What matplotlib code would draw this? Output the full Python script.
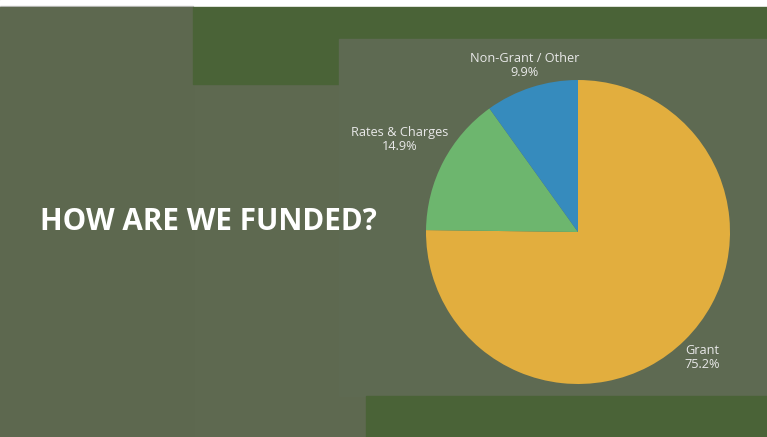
import numpy as np
import matplotlib.pyplot as plt
from matplotlib.patches import Rectangle

labels = ["Grant", "Rates & Charges", "Non-Grant / Other"]
shares = [75.2, 14.9, 9.9]
colors = ["#e2ae3e", "#6db66e", "#368bbd"]
label_dist = [1.165, 1.32, 1.15]

W, H = 767, 437
fig = plt.figure(figsize=(W / 100, H / 100), dpi=100)
fig.patch.set_facecolor("#5e6950")

# background blocks (pixel coords, y from top)
bg = fig.add_axes([0, 0, 1, 1])
bg.set_xlim(0, W)
bg.set_ylim(H, 0)
bg.axis("off")
bg.add_patch(Rectangle((0, 0), W, 7, color="white"))
bg.add_patch(Rectangle((0, 6), 193, 1.2, color="#c8c8c8"))
bg.add_patch(Rectangle((0, 7), 193, H - 7, color="#5d684f"))
bg.add_patch(Rectangle((193, 7), W - 193, 77, color="#4a6337"))
bg.add_patch(Rectangle((339, 39), W - 339, 357, color="#5e6a52"))
bg.add_patch(Rectangle((366, 396), W - 366, H - 396, color="#4a6337"))

bg.text(40, 222, "HOW ARE WE FUNDED?", color="white", fontsize=21.3,
        fontweight="bold", family="Open Sans", va="center", ha="left")

# pie
cx, cy, r = 578, 232, 152
ax = fig.add_axes([(cx - r) / W, (H - cy - r) / H, 2 * r / W, 2 * r / H])
wedges, _ = ax.pie(shares, colors=colors, startangle=90, counterclock=False,
                   radius=1, wedgeprops=dict(linewidth=0))
ax.set_xlim(-1, 1)
ax.set_ylim(-1, 1)
ax.set_aspect("auto")

for w, lab, s, d in zip(wedges, labels, shares, label_dist):
    ang = np.deg2rad((w.theta1 + w.theta2) / 2)
    ax.text(d * np.cos(ang), d * np.sin(ang), f"{lab}\n{s}%", ha="center",
            va="center", color="#e8e8e8", fontsize=9.2, family="Open Sans",
            linespacing=1.1, clip_on=False)

fig.savefig("out.png", dpi=100, facecolor=fig.get_facecolor())
